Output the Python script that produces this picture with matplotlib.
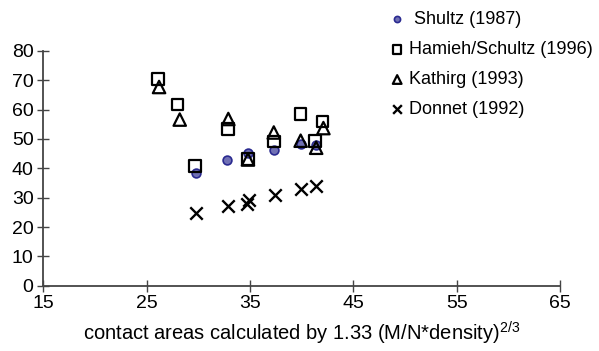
import matplotlib

matplotlib.use("Agg")

import matplotlib.pyplot as plt

plt.rcParams["font.family"] = ["Liberation Sans", "DejaVu Sans"]
plt.rcParams["mathtext.fontset"] = "custom"
plt.rcParams["mathtext.rm"] = "Liberation Sans"
plt.rcParams["mathtext.it"] = "Liberation Sans:italic"

# values
shultz_x = [29.8, 32.8, 34.8, 37.3, 39.9, 41.4]
shultz_y = [38.5, 42.9, 45.2, 46.3, 48.4, 47.8]

hamieh_x = [26.1, 28.0, 29.7, 32.9, 34.8, 37.3, 39.9, 41.3, 42.0]
hamieh_y = [70.4, 61.7, 40.7, 53.4, 43.2, 49.1, 58.6, 49.4, 56.0]

kathirg_x = [26.2, 28.2, 32.9, 34.8, 37.3, 39.9, 41.4, 42.1]
kathirg_y = [67.7, 56.6, 56.8, 43.0, 52.2, 49.4, 47.0, 53.7]

donnet_x = [29.8, 32.9, 34.7, 34.9, 37.4, 39.9, 41.4]
donnet_y = [24.9, 27.2, 28.0, 29.3, 31.0, 32.9, 34.0]

x_ticks = [15, 25, 35, 45, 55, 65]
y_ticks = [0, 10, 20, 30, 40, 50, 60, 70, 80]

fig = plt.figure(figsize=(5.99, 3.51), dpi=100)
ax = fig.add_axes([0.0723, 0.186, 0.8627, 0.669])

ax.scatter(shultz_x, shultz_y, marker="o", s=40, facecolor="#7070b4",
           edgecolor="#2a2a90", linewidth=1.2, label=" Shultz (1987)", zorder=3)
ax.scatter(hamieh_x, hamieh_y, marker="s", s=70, facecolor="none",
           edgecolor="black", linewidth=1.6, label="Hamieh/Schultz (1996)", zorder=3)
ax.scatter(kathirg_x, kathirg_y, marker="^", s=80, facecolor="none",
           edgecolor="black", linewidth=1.6, label="Kathirg (1993)", zorder=3)
ax.scatter(donnet_x, donnet_y, marker="x", s=80, color="black",
           linewidth=1.7, label="Donnet (1992)", zorder=3)

ax.set_xlim(15, 65)
ax.set_ylim(0, 80)
ax.set_xticks(x_ticks)
ax.set_yticks(y_ticks)
ax.tick_params(direction="inout", length=8, width=1, color="#444444",
               labelsize=14, pad=3)
for side in ("top", "right"):
    ax.spines[side].set_visible(False)
for side in ("left", "bottom"):
    ax.spines[side].set_color("#444444")
    ax.spines[side].set_linewidth(1.3)

ax.set_xlabel(r"contact areas calculated by 1.33 (M/N*density)$^{2/3}$",
              fontsize=14.5, labelpad=5)

ax.legend(loc="upper left", bbox_to_anchor=(0.648, 0.968),
          bbox_transform=fig.transFigure, frameon=False, fontsize=13,
          handletextpad=0.15, labelspacing=0.72, markerscale=0.7,
          handlelength=1.0, borderaxespad=0, borderpad=0)

fig.savefig("out.png", dpi=100)
